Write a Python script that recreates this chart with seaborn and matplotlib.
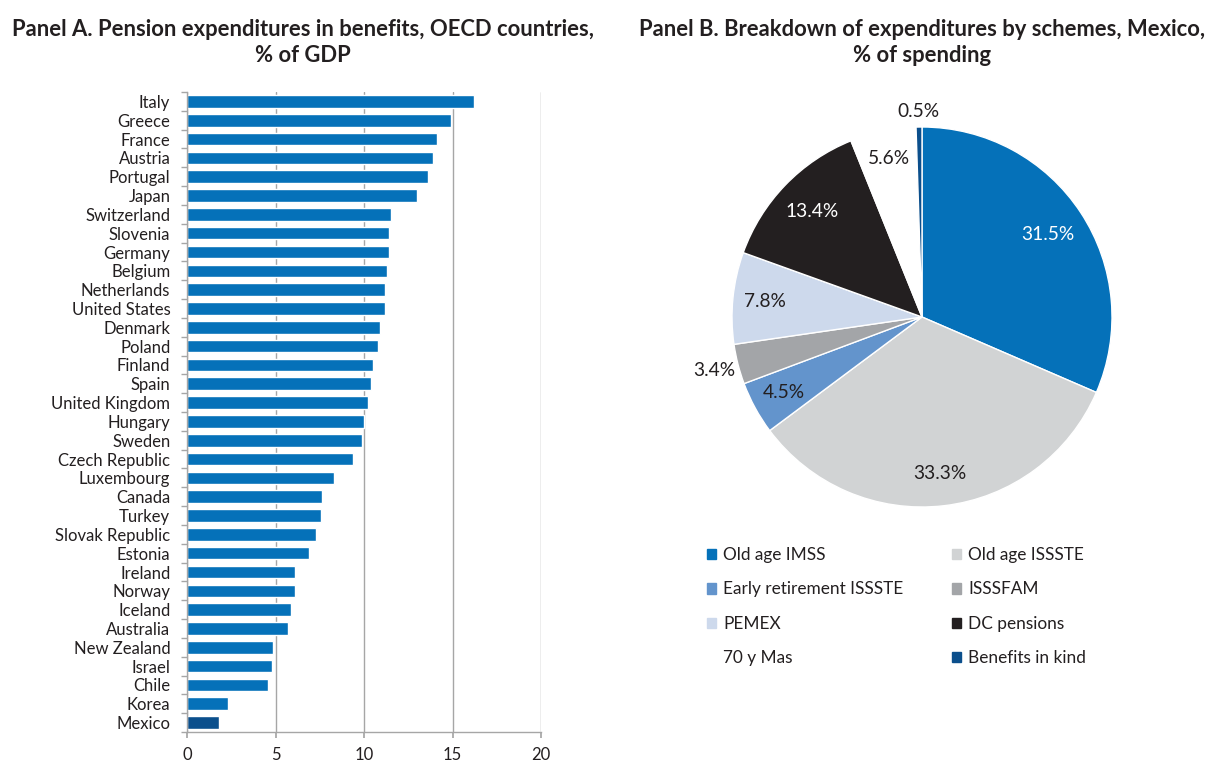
import matplotlib
matplotlib.use("Agg")
import numpy as np
import pandas as pd
import seaborn as sns
import matplotlib.pyplot as plt
from matplotlib.patches import Patch

# Panel A: pension expenditures, % of GDP
countries = ["Italy", "Greece", "France", "Austria", "Portugal", "Japan", "Switzerland",
             "Slovenia", "Germany", "Belgium", "Netherlands", "United States", "Denmark",
             "Poland", "Finland", "Spain", "United Kingdom", "Hungary", "Sweden",
             "Czech Republic", "Luxembourg", "Canada", "Turkey", "Slovak Republic",
             "Estonia", "Ireland", "Norway", "Iceland", "Australia", "New Zealand",
             "Israel", "Chile", "Korea", "Mexico"]
spending = [16.2, 14.9, 14.1, 13.9, 13.6, 13.0, 11.5, 11.4, 11.4, 11.3, 11.2, 11.2, 10.9,
            10.8, 10.5, 10.4, 10.2, 10.0, 9.9, 9.4, 8.3, 7.6, 7.55, 7.3, 6.9, 6.1, 6.08,
            5.9, 5.7, 4.85, 4.8, 4.6, 2.3, 1.8]
x_ticks = [0, 5, 10, 15, 20]

# Panel B: breakdown of Mexican pension spending by scheme, %
schemes = ["Old age IMSS", "Old age ISSSTE", "Early retirement ISSSTE", "ISSSFAM",
           "PEMEX", "DC pensions", "70 y Mas", "Benefits in kind"]
shares = [31.5, 33.3, 4.5, 3.4, 7.8, 13.4, 5.6, 0.5]

BLUE = "#0571b9"
DARK_BLUE = "#0b4f8c"
TEXT = "#231f20"
GRID = "#a6a6a6"
scheme_colors = ["#0571b9", "#d1d3d4", "#6394cc", "#a3a5a8", "#cdd9ec", "#231f20",
                 "#ffffff", "#0b4f8c"]
label_colors = ["white", TEXT, TEXT, TEXT, TEXT, "white", TEXT, TEXT]
label_dist = [0.79, 0.83, 0.83, 1.13, 0.83, 0.80, 0.85, 1.08]

sns.set_theme(style="white")
plt.rcParams["font.family"] = ["Lato", "DejaVu Sans"]
plt.rcParams["text.color"] = TEXT

W, H = 1213, 761
fig = plt.figure(figsize=(W / 100, H / 100), dpi=100)

# ---- Panel A: horizontal bars ----
axA = fig.add_axes([187 / W, 1 - 732 / H, 354 / W, 640 / H])
df = pd.DataFrame({"country": countries, "value": spending})
palette = {c: (DARK_BLUE if c == "Mexico" else BLUE) for c in countries}
sns.barplot(data=df, x="value", y="country", hue="country", palette=palette,
            legend=False, width=0.67, saturation=1, ax=axA)
n = len(countries)
axA.set_xlim(0, 20)
axA.set_ylim(n - 0.5, -0.5)
axA.set_xticks(x_ticks)
axA.set_xlabel("")
axA.set_ylabel("")
axA.xaxis.grid(True, color=GRID, linewidth=1)
axA.set_axisbelow(True)
for s in ["top", "right"]:
    axA.spines[s].set_visible(False)
for s in ["left", "bottom"]:
    axA.spines[s].set_color(GRID)
    axA.spines[s].set_linewidth(1)
axA.set_yticks(np.arange(-0.5, n, 1), minor=True)
axA.tick_params(axis="y", which="major", left=True, length=0, pad=12,
                labelsize=12, labelcolor=TEXT)
axA.tick_params(axis="y", which="minor", left=True, length=4, color=GRID)
axA.tick_params(axis="x", which="major", bottom=True, length=4, color=GRID, pad=7,
                labelsize=12, labelcolor=TEXT)

TITLE_FS = 15.8
fig.text(303 / W, 1 - 30 / H, "Panel A. Pension expenditures in benefits, OECD countries,",
         ha="center", va="center", fontsize=TITLE_FS, fontweight="bold")
fig.text(303 / W, 1 - 56 / H, "% of GDP", ha="center", va="center",
         fontsize=TITLE_FS, fontweight="bold")

# ---- Panel B: pie ----
axB = fig.add_axes([732 / W, 1 - 507 / H, 380 / W, 380 / H])
wedges, _ = axB.pie(shares, colors=scheme_colors, startangle=90, counterclock=False,
                    radius=1, wedgeprops=dict(edgecolor="white", linewidth=1))
axB.set_xlim(-1, 1)
axB.set_ylim(-1, 1)
axB.set_aspect("equal")
for w, v, d, c in zip(wedges, shares, label_dist, label_colors):
    ang = np.deg2rad((w.theta1 + w.theta2) / 2)
    axB.text(d * np.cos(ang), d * np.sin(ang), f"{v:.1f}%", ha="center", va="center",
             fontsize=13.8, color=c, clip_on=False)

fig.text(922 / W, 1 - 30 / H, "Panel B. Breakdown of expenditures by schemes, Mexico,",
         ha="center", va="center", fontsize=TITLE_FS, fontweight="bold")
fig.text(922 / W, 1 - 56 / H, "% of spending", ha="center", va="center",
         fontsize=TITLE_FS, fontweight="bold")

# Legend in two columns (read row by row)
handles = [Patch(facecolor=c, edgecolor=c) for c in scheme_colors]
col1 = [0, 2, 4, 6]
col2 = [1, 3, 5, 7]
leg_kw = dict(loc="upper left", frameon=False, fontsize=12.4, borderpad=0,
              borderaxespad=0, handlelength=0.55, handleheight=0.55, handletextpad=0.4,
              labelspacing=1.07)
leg1 = fig.legend([handles[i] for i in col1], [schemes[i] for i in col1],
                  bbox_to_anchor=(707 / W, 1 - 547 / H), **leg_kw)
leg2 = fig.legend([handles[i] for i in col2], [schemes[i] for i in col2],
                  bbox_to_anchor=(952 / W, 1 - 547 / H), **leg_kw)

fig.savefig("out.png", dpi=100)
